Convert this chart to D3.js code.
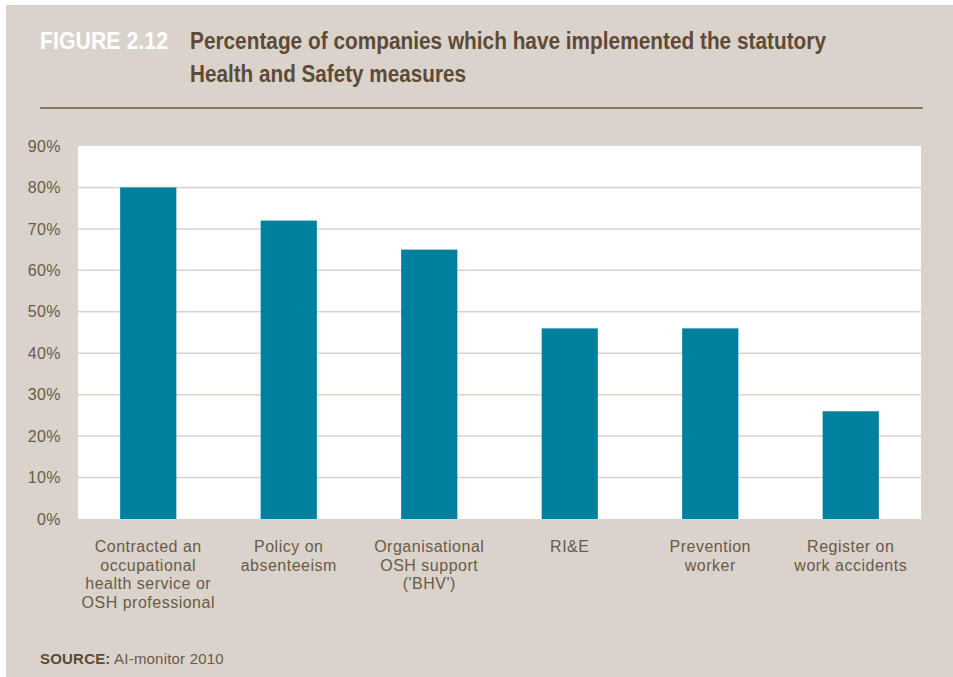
<!DOCTYPE html>
<html>
<head>
<meta charset="utf-8">
<script src="https://cdn.jsdelivr.net/npm/d3@7"></script>
<style>
  html, body { margin: 0; padding: 0; background: #fff; }
  svg { display: block; }
</style>
</head>
<body>
<svg id="chart" width="953" height="677"></svg>
<script>
// 数据
const categories = [
    ["Contracted an", "occupational", "health service or", "OSH professional"],
    ["Policy on", "absenteeism"],
    ["Organisational", "OSH support", "('BHV')"],
    ["RI&E"],
    ["Prevention", "worker"],
    ["Register on", "work accidents"]
];
const values = [80, 72, 65, 46, 46, 26];
const yTicks = [0, 10, 20, 30, 40, 50, 60, 70, 80, 90];

const bg = "#dad3cc";
const brown = "#5e4a35";
const tickColor = "#6b5a45";
const barColor = "#00809f";
const titleFont = "'Liberation Sans Narrow', 'Liberation Sans', sans-serif";
const bodyFont = "'Liberation Sans', Arial, sans-serif";

const svg = d3.select("#chart");

// 背景面板
svg.append("rect")
    .attr("x", 6).attr("y", 5)
    .attr("width", 947).attr("height", 672)
    .attr("fill", bg);

// 标题
svg.append("text")
    .attr("x", 40).attr("y", 49)
    .attr("fill", "#fff")
    .attr("textLength", 128)
    .attr("lengthAdjust", "spacingAndGlyphs")
    .style("font-family", titleFont)
    .style("font-weight", "bold")
    .style("font-size", "23px")
    .text("FIGURE 2.12");

const titleLines = ["Percentage of companies which have implemented the statutory", "Health and Safety measures"];
const titleWidths = [636, 276];
titleLines.forEach((t, i) => {
    svg.append("text")
        .attr("x", 190).attr("y", 49 + i * 33)
        .attr("fill", brown)
        .attr("textLength", titleWidths[i])
        .attr("lengthAdjust", "spacingAndGlyphs")
        .style("font-family", titleFont)
        .style("font-weight", "bold")
        .style("font-size", "23px")
        .text(t);
});

svg.append("line")
    .attr("x1", 40).attr("x2", 923)
    .attr("y1", 108).attr("y2", 108)
    .attr("stroke", "#6b5a44")
    .attr("stroke-width", 1.5);

// 绘图区
const plot = { left: 78, right: 921, top: 146, bottom: 519 };

const xScale = d3.scaleBand()
    .domain(d3.range(values.length))
    .range([plot.left, plot.right])
    .paddingInner(0.6)
    .paddingOuter(0.3);

const yScale = d3.scaleLinear()
    .domain([0, 90])
    .range([plot.bottom, plot.top]);

svg.append("rect")
    .attr("x", plot.left).attr("y", plot.top)
    .attr("width", plot.right - plot.left)
    .attr("height", plot.bottom - plot.top)
    .attr("fill", "#fff");

// 网格线
svg.append("g")
    .selectAll("line")
    .data(yTicks.filter(d => d > 0 && d < 90))
    .join("line")
    .attr("x1", plot.left).attr("x2", plot.right)
    .attr("y1", d => yScale(d)).attr("y2", d => yScale(d))
    .attr("stroke", bg)
    .attr("stroke-width", 1.5);

// 柱子
svg.append("g")
    .selectAll("rect")
    .data(values)
    .join("rect")
    .attr("x", (_, i) => xScale(i))
    .attr("y", d => yScale(d))
    .attr("width", xScale.bandwidth())
    .attr("height", d => yScale(0) - yScale(d))
    .attr("fill", barColor);

// y轴
const yAxis = svg.append("g")
    .attr("transform", `translate(${plot.left - 14},0)`)
    .call(d3.axisLeft(yScale).tickValues(yTicks).tickFormat(d => d + "%").tickSize(0));
yAxis.select(".domain").remove();
yAxis.selectAll("text")
    .attr("fill", tickColor)
    .style("font-family", bodyFont)
    .style("font-size", "16px")
    .style("letter-spacing", "0.4px");

// x轴标签
const xLabels = svg.append("g");
categories.forEach((lines, i) => {
    const cx = xScale(i) + xScale.bandwidth() / 2;
    const t = xLabels.append("text")
        .attr("x", cx)
        .attr("y", 552)
        .attr("text-anchor", "middle")
        .attr("fill", tickColor)
        .style("font-family", bodyFont)
        .style("font-size", "16px")
        .style("letter-spacing", "0.5px");
    lines.forEach((l, j) => {
        t.append("tspan")
            .attr("x", cx)
            .attr("dy", j === 0 ? 0 : 18.5)
            .text(l);
    });
});

// 来源
const src = svg.append("text")
    .attr("x", 40).attr("y", 664)
    .attr("fill", brown)
    .style("font-family", bodyFont)
    .style("font-size", "15px")
    .style("letter-spacing", "0.2px");
src.append("tspan").style("font-weight", "bold").text("SOURCE:");
src.append("tspan").attr("fill", tickColor).text(" AI-monitor 2010");
</script>
</body>
</html>
